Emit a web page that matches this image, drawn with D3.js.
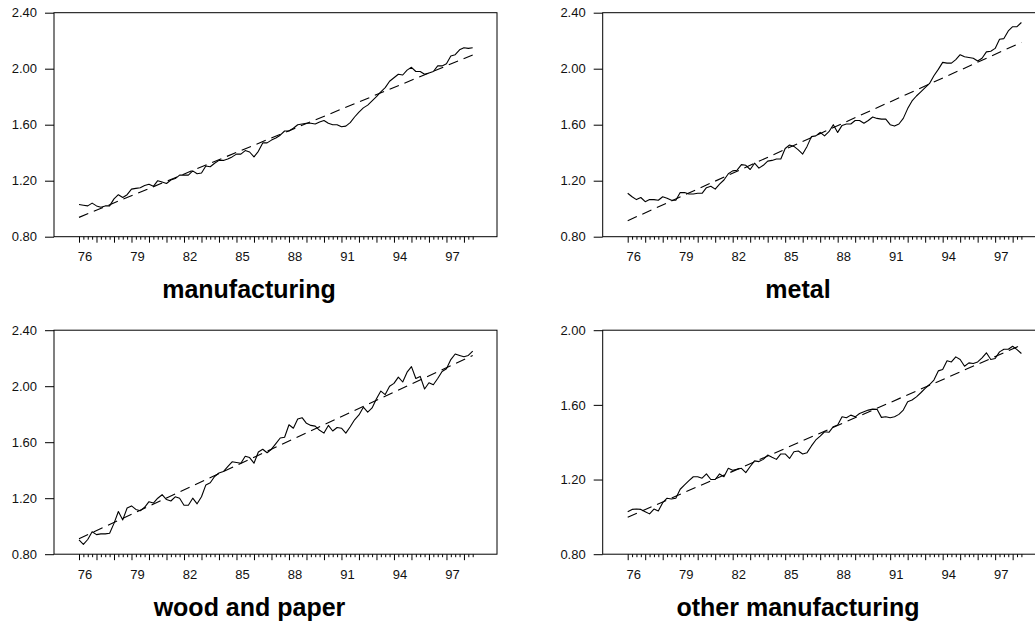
<!DOCTYPE html>
<html>
<head>
<meta charset="utf-8">
<script src="https://cdnjs.cloudflare.com/ajax/libs/d3/7.8.5/d3.min.js"></script>
<style>
body { margin: 0; background: #fff; }
svg { display: block; font-family: "Liberation Sans", Arial, sans-serif; }
</style>
</head>
<body>
<div id="chart"></div>
<script>
/*
Four quarterly series 1976Q1 - 1998Q3 with dashed linear trend
*/

var startYear = 1976;
var yearLabels = ["76", "79", "82", "85", "88", "91", "94", "97"];
var titles = ["manufacturing", "metal", "wood and paper", "other manufacturing"];

var manufacturing = [
    1.03, 1.025, 1.02, 1.04, 1.02, 1.01, 1.02, 1.02,
    1.07, 1.10, 1.08, 1.10, 1.14, 1.145, 1.15, 1.165,
    1.175, 1.16, 1.20, 1.19, 1.18, 1.205, 1.215, 1.24,
    1.24, 1.24, 1.27, 1.25, 1.255, 1.305, 1.30, 1.325,
    1.345, 1.345, 1.355, 1.37, 1.39, 1.39, 1.415, 1.405,
    1.37, 1.41, 1.47, 1.47, 1.49, 1.505, 1.525, 1.555,
    1.555, 1.575, 1.60, 1.605, 1.61, 1.61, 1.605, 1.62,
    1.63, 1.61, 1.60, 1.60, 1.585, 1.59, 1.615, 1.655,
    1.69, 1.72, 1.74, 1.77, 1.80, 1.835, 1.865, 1.91,
    1.935, 1.96, 1.955, 1.99, 2.01, 1.98, 1.98, 1.96,
    1.97, 1.98, 2.02, 2.02, 2.035, 2.09, 2.10, 2.135,
    2.15, 2.145, 2.15
];
var manufacturingTrend = [0.938, 2.098];

var metal = [
    1.11, 1.085, 1.065, 1.08, 1.05, 1.065, 1.065, 1.06,
    1.085, 1.075, 1.06, 1.06, 1.115, 1.115, 1.105, 1.105,
    1.11, 1.11, 1.15, 1.16, 1.14, 1.175, 1.205, 1.25,
    1.27, 1.275, 1.315, 1.31, 1.28, 1.325, 1.29, 1.31,
    1.34, 1.345, 1.355, 1.355, 1.43, 1.455, 1.445, 1.42,
    1.39, 1.445, 1.515, 1.52, 1.545, 1.52, 1.55, 1.60,
    1.545, 1.595, 1.605, 1.605, 1.63, 1.63, 1.61, 1.63,
    1.655, 1.645, 1.64, 1.64, 1.60, 1.59, 1.605, 1.645,
    1.715, 1.77, 1.805, 1.835, 1.865, 1.895, 1.95, 1.995,
    2.045, 2.04, 2.04, 2.065, 2.10, 2.085, 2.08, 2.075,
    2.055, 2.075, 2.12, 2.125, 2.145, 2.21, 2.215, 2.27,
    2.30, 2.30, 2.33
];
var metalTrend = [0.914, 2.188];

var woodPaper = [
    0.902, 0.87, 0.905, 0.96, 0.94, 0.945, 0.945, 0.95,
    1.02, 1.105, 1.045, 1.13, 1.145, 1.12, 1.11, 1.135,
    1.175, 1.165, 1.20, 1.225, 1.19, 1.18, 1.21, 1.20,
    1.15, 1.15, 1.20, 1.16, 1.21, 1.295, 1.31, 1.355,
    1.38, 1.39, 1.425, 1.46, 1.455, 1.45, 1.50, 1.49,
    1.45, 1.53, 1.55, 1.525, 1.55, 1.59, 1.63, 1.635,
    1.725, 1.70, 1.765, 1.775, 1.735, 1.72, 1.715, 1.685,
    1.665, 1.72, 1.68, 1.705, 1.70, 1.665, 1.71, 1.76,
    1.795, 1.85, 1.815, 1.845, 1.91, 1.965, 1.94, 2.00,
    2.02, 2.065, 2.03, 2.10, 2.14, 2.055, 2.07, 1.98,
    2.025, 2.01, 2.055, 2.105, 2.125, 2.19, 2.23, 2.22,
    2.21, 2.22, 2.25
];
var woodPaperTrend = [0.91, 2.22];

var otherManufacturing = [
    1.028, 1.04, 1.042, 1.04, 1.028, 1.016, 1.042, 1.032,
    1.076, 1.10, 1.096, 1.10, 1.148, 1.171, 1.194, 1.215,
    1.215, 1.207, 1.23, 1.20, 1.20, 1.23, 1.215, 1.26,
    1.25, 1.255, 1.26, 1.237, 1.27, 1.30, 1.296, 1.308,
    1.331, 1.319, 1.308, 1.337, 1.337, 1.313, 1.349, 1.353,
    1.337, 1.344, 1.38, 1.412, 1.433, 1.456, 1.453, 1.483,
    1.492, 1.536, 1.531, 1.545, 1.536, 1.554, 1.563, 1.572,
    1.577, 1.576, 1.533, 1.536, 1.531, 1.536, 1.549, 1.572,
    1.617, 1.626, 1.643, 1.665, 1.688, 1.709, 1.733, 1.782,
    1.79, 1.836, 1.83, 1.857, 1.843, 1.807, 1.825, 1.822,
    1.83, 1.852, 1.879, 1.843, 1.848, 1.884, 1.898, 1.898,
    1.914, 1.896, 1.875
];
var otherManufacturingTrend = [0.998, 1.92];

var yTicksA = [0.8, 1.2, 1.6, 2.0, 2.4];
var yTicksB = [0.8, 1.2, 1.6, 2.0];

function drawPanels() {
    var width = 1035, height = 626;
    var frameW = 443, frameH = 224;

    var panels = [
        { name: titles[0], values: manufacturing, trend: manufacturingTrend, ticks: yTicksA, left: 54, top: 12.7, cx: 249, ty: 297.5 },
        { name: titles[1], values: metal, trend: metalTrend, ticks: yTicksA, left: 602.7, top: 12.7, cx: 798, ty: 297.5 },
        { name: titles[2], values: woodPaper, trend: woodPaperTrend, ticks: yTicksA, left: 54, top: 330.2, cx: 249.5, ty: 616 },
        { name: titles[3], values: otherManufacturing, trend: otherManufacturingTrend, ticks: yTicksB, left: 602.7, top: 330.2, cx: 798, ty: 616 }
    ];

    var svg = d3.select('#chart')
        .append('svg')
        .attr('width', width)
        .attr('height', height);

    panels.forEach(function (p) {
        var n = p.values.length;
        var endYear = startYear + (n - 1) / 4;

        var xScale = d3.scaleLinear()
            .domain([startYear, endYear])
            .range([25, 418.7]);

        var yScale = d3.scaleLinear()
            .domain([d3.min(p.ticks), d3.max(p.ticks)])
            .range([frameH, 0]);

        var g = svg.append('g')
            .attr('transform', 'translate(' + p.left + ',' + p.top + ')');

        // frame
        g.append('rect')
            .attr('x', 0).attr('y', 0)
            .attr('width', frameW).attr('height', frameH)
            .attr('fill', 'none')
            .attr('stroke', '#000')
            .attr('stroke-width', 1);

        // y axis: ticks outside to the left
        var yAxis = d3.axisLeft(yScale)
            .tickValues(p.ticks)
            .tickSize(9)
            .tickPadding(8)
            .tickFormat(d3.format('.2f'));

        var ya = g.append('g').call(yAxis);
        ya.select('.domain').remove();
        ya.selectAll('text')
            .style('font-size', '13px')
            .style('font-family', '"Liberation Sans", Arial, sans-serif')
            .attr('fill', '#111');
        ya.selectAll('line').attr('stroke', '#000');

        // quarterly ticks below the frame
        var quarters = d3.range(n).map(function (i) { return startYear + i / 4; });
        var xAxisMinor = d3.axisBottom(xScale)
            .tickValues(quarters.filter(function (d, i) { return i % 4 !== 0; }))
            .tickSize(3)
            .tickFormat('');
        var xAxisMajor = d3.axisBottom(xScale)
            .tickValues(quarters.filter(function (d, i) { return i % 4 === 0; }))
            .tickSize(6)
            .tickFormat('');

        var xm = g.append('g').attr('transform', 'translate(0,' + frameH + ')').call(xAxisMinor);
        var xM = g.append('g').attr('transform', 'translate(0,' + frameH + ')').call(xAxisMajor);
        xm.select('.domain').remove();
        xM.select('.domain').remove();
        xm.selectAll('line').attr('stroke', '#000');
        xM.selectAll('line').attr('stroke', '#000');

        g.selectAll('.year-label')
            .data(yearLabels)
            .enter().append('text')
            .attr('class', 'year-label')
            .attr('x', function (d) { return xScale(1900 + (+d)) + 6; })
            .attr('y', frameH + 24.5)
            .attr('text-anchor', 'middle')
            .style('font-size', '13px')
            .attr('fill', '#111')
            .text(function (d) { return d; });

        // series
        var line = d3.line()
            .x(function (d, i) { return xScale(startYear + i / 4); })
            .y(function (d) { return yScale(d); });

        g.append('path')
            .datum(p.values)
            .attr('d', line)
            .attr('fill', 'none')
            .attr('stroke', '#000')
            .attr('stroke-width', 1.1)
            .attr('stroke-linejoin', 'round');

        // dashed trend
        g.append('line')
            .attr('x1', xScale(startYear))
            .attr('y1', yScale(p.trend[0]))
            .attr('x2', xScale(endYear))
            .attr('y2', yScale(p.trend[1]))
            .attr('stroke', '#000')
            .attr('stroke-width', 1.1)
            .attr('stroke-dasharray', '10,6');

        // title
        svg.append('text')
            .attr('x', p.cx)
            .attr('y', p.ty)
            .attr('text-anchor', 'middle')
            .style('font-size', '25px')
            .style('font-weight', 'bold')
            .attr('fill', '#000')
            .text(p.name);
    });
}

drawPanels();
</script>
</body>
</html>
